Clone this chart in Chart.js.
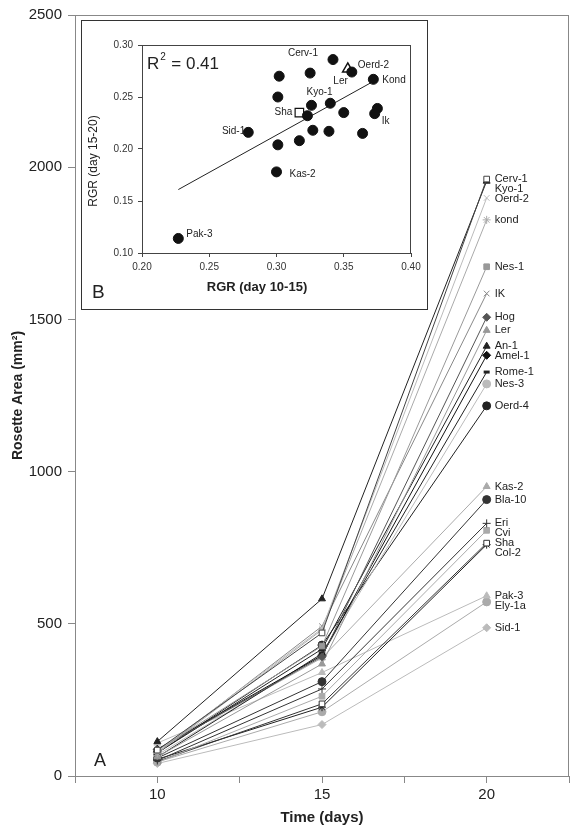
<!DOCTYPE html>
<html>
<head>
<meta charset="utf-8">
<script src="https://cdn.jsdelivr.net/npm/chart.js@4.4.1/dist/chart.umd.min.js"></script>
<style>
  body { margin: 0; background: #fff; }
  #wrap { position: relative; width: 576px; height: 830px; }
  #main { position: absolute; left: 0; top: 0; }
  #insetBox { position: absolute; left: 81px; top: 20px; width: 347px; height: 290px;
              box-sizing: border-box; border: 1px solid #333; background: #fff; }
</style>
</head>
<body>
<div id="wrap">
  <canvas id="main" width="576" height="830"></canvas>
  <div id="insetBox"><canvas id="inset" width="345" height="288"></canvas></div>
</div>
<script>
// --- panel A : rosette area per accession ---
const days = [10, 15, 20];
const dayTicks = [10, 15, 20];
const areaTicks = [0, 500, 1000, 1500, 2000, 2500];
const accessions = ['Cerv-1', 'Kyo-1', 'Oerd-2', 'kond', 'Nes-1', 'IK', 'Hog', 'Ler', 'An-1', 'Amel-1',
  'Rome-1', 'Nes-3', 'Oerd-4', 'Kas-2', 'Bla-10', 'Eri', 'Cvi', 'Sha', 'Col-2', 'Pak-3', 'Ely-1a', 'Sid-1'];
const area10 = [85, 113, 81, 75, 84, 76, 86, 63, 76, 88, 62, 69, 76, 87, 59, 51, 45, 48, 55, 108, 46, 41];
const area15 = [470, 582, 484, 480, 427, 492, 392, 368, 417, 396, 402, 398, 430, 388, 310, 286, 262, 237, 226, 340, 211, 169];
const area20 = [1961, 1954, 1899, 1827, 1673, 1585, 1507, 1464, 1412, 1382, 1327, 1288, 1216, 951, 908, 830, 807, 765, 760, 592, 572, 487];

// --- panel B : RGR scatter ---
const rgr1015 = [0.342, 0.325, 0.302, 0.356, 0.372, 0.301, 0.340, 0.326, 0.323, 0.350, 0.375, 0.373,
  0.279, 0.327, 0.339, 0.364, 0.301, 0.317, 0.300, 0.227];
const rgr1520 = [0.286, 0.273, 0.270, 0.274, 0.267, 0.250, 0.244, 0.242, 0.232, 0.235, 0.239, 0.234,
  0.216, 0.218, 0.217, 0.215, 0.204, 0.208, 0.178, 0.114];
const rgrTags = ['Cerv-1', '', '', 'Oerd-2', 'Kond', '', '', 'Kyo-1', '', '', '', 'Ik',
  'Sid-1', '', '', '', '', '', 'Kas-2', 'Pak-3'];
const shaRgr = [0.317, 0.235];
const lerRgr = [0.353, 0.277];
const fitX = [0.227, 0.372];
const fitY = [0.161, 0.265];
const rgrTicks = [0.10, 0.15, 0.20, 0.25, 0.30];
const rgrXTicks = [0.20, 0.25, 0.30, 0.35, 0.40];

const FONT = "'Liberation Sans', Arial, sans-serif";
Chart.defaults.font.family = FONT;
Chart.defaults.color = '#222';

// line / marker look per accession
const looks = [
  {c: '#444', m: 'rect', f: '#fff'}, {c: '#222', m: 'triangle'}, {c: '#bbb', m: 'crossRot'},
  {c: '#aaa', m: 'star'}, {c: '#999', m: 'rect'}, {c: '#888', m: 'crossRot'},
  {c: '#555', m: 'rectRot'}, {c: '#999', m: 'triangle'}, {c: '#222', m: 'triangle'},
  {c: '#111', m: 'rectRot'}, {c: '#222', m: 'line'}, {c: '#bbb', m: 'circle'},
  {c: '#222', m: 'circle'}, {c: '#aaa', m: 'triangle'}, {c: '#333', m: 'circle'},
  {c: '#333', m: 'cross'}, {c: '#aaa', m: 'rect'}, {c: '#333', m: 'rect', f: '#fff'},
  {c: '#222', m: 'star'}, {c: '#bbb', m: 'triangle'}, {c: '#aaa', m: 'circle'},
  {c: '#bbb', m: 'rectRot'}
];

const series = [area10, area15, area20];
const mainSets = accessions.map((name, i) => ({
  label: name,
  data: days.map((d, k) => ({x: d, y: series[k][i]})),
  borderColor: looks[i].c,
  borderWidth: 1,
  pointStyle: looks[i].m,
  pointRadius: looks[i].m === 'line' ? 3 : 4,
  pointBorderWidth: looks[i].m === 'line' ? 3 : 1,
  pointBackgroundColor: looks[i].f || looks[i].c,
  pointBorderColor: looks[i].c,
  tension: 0
}));

const frame = {
  id: 'frame',
  beforeDatasetsDraw(chart, args, opts) {
    const {ctx, chartArea: a} = chart;
    ctx.save();
    ctx.strokeStyle = opts.color || '#888';
    ctx.lineWidth = 1;
    ctx.strokeRect(a.left + 0.5, a.top + 0.5, a.right - a.left - 1, a.bottom - a.top);
    ctx.restore();
  }
};

// names at the day-20 end of each line, nudged apart so they do not overlap
const endNames = {
  id: 'endNames',
  afterDatasetsDraw(chart) {
    const {ctx, scales: {x, y}} = chart;
    const px = x.getPixelForValue(20) + 8;
    let rows = accessions.map((n, i) => ({n, y: y.getPixelForValue(area20[i])}));
    rows.sort((a, b) => a.y - b.y);
    for (let i = 1; i < rows.length; i++) {
      if (rows[i].y - rows[i - 1].y < 10) rows[i].y = rows[i - 1].y + 10;
    }
    ctx.save();
    ctx.font = '11px ' + FONT;
    ctx.fillStyle = '#222';
    ctx.textBaseline = 'middle';
    rows.forEach(r => ctx.fillText(r.n, px, r.y));
    ctx.font = '18px ' + FONT;
    ctx.textAlign = 'center';
    ctx.fillText('A', 100, 761);
    ctx.restore();
  }
};

new Chart(document.getElementById('main'), {
  type: 'line',
  data: {datasets: mainSets},
  options: {
    responsive: false,
    animation: false,
    layout: {padding: {top: 10, right: 2, left: 0, bottom: 0}},
    plugins: {legend: {display: false}, tooltip: {enabled: false}, frame: {color: '#888'}},
    scales: {
      x: {
        type: 'linear', min: 7.5, max: 22.5,
        afterFit: s => { s.height = 54; },
        ticks: {stepSize: 2.5, autoSkip: false, maxRotation: 0, padding: 3,
          font: {size: 15}, color: '#222',
          callback: v => dayTicks.includes(v) ? String(v) : ''},
        grid: {drawOnChartArea: false, tickLength: 7, color: '#888'},
        border: {color: '#888'},
        title: {display: true, text: 'Time (days)', font: {size: 15, weight: 'bold'},
          color: '#222', padding: {top: 0, bottom: 3}}
      },
      y: {
        min: 0, max: 2500,
        afterFit: s => { s.width = 75; },
        afterBuildTicks: s => { s.ticks = areaTicks.map(v => ({value: v})); },
        ticks: {padding: 6, font: {size: 15}, color: '#222', callback: v => String(v)},
        grid: {drawOnChartArea: false, tickLength: 7, color: '#888'},
        border: {color: '#888'},
        title: {display: true, text: 'Rosette Area (mm²)', font: {size: 14, weight: 'bold'},
          color: '#222', padding: {top: 10, bottom: 0}}
      }
    }
  },
  plugins: [frame, endNames]
});

// --- inset ---
const tagPlace = {
  'Cerv-1': [-15, -6, 'right'], 'Oerd-2': [6, -7, 'left'], 'Kond': [9, 1, 'left'],
  'Kyo-1': [-5, -13, 'left'], 'Ik': [7, 8, 'left'], 'Sid-1': [-3, -1, 'right'],
  'Kas-2': [13, 2, 'left'], 'Pak-3': [8, -4, 'left']
};

const insetText = {
  id: 'insetText',
  afterDatasetsDraw(chart) {
    const {ctx, scales: {x, y}} = chart;
    ctx.save();
    ctx.fillStyle = '#222';
    ctx.textBaseline = 'middle';
    ctx.font = '10px ' + FONT;
    rgrTags.forEach((t, i) => {
      if (!t) return;
      const p = tagPlace[t];
      ctx.textAlign = p[2];
      ctx.fillText(t, x.getPixelForValue(rgr1015[i]) + p[0], y.getPixelForValue(rgr1520[i]) + p[1]);
    });
    ctx.textAlign = 'right';
    ctx.fillText('Sha', x.getPixelForValue(shaRgr[0]) - 7, y.getPixelForValue(shaRgr[1]));
    ctx.fillText('Ler', x.getPixelForValue(lerRgr[0]), y.getPixelForValue(lerRgr[1]) + 12);

    // R^2
    ctx.textAlign = 'left';
    ctx.font = '17px ' + FONT;
    ctx.fillText('R', 65, 43);
    const rw = ctx.measureText('R').width;
    ctx.font = '10px ' + FONT;
    ctx.fillText('2', 65 + rw + 1, 36);
    ctx.font = '17px ' + FONT;
    ctx.fillText('= 0.41', 65 + rw + 12, 43);

    ctx.font = '19px ' + FONT;
    ctx.fillText('B', 10, 272);

    ctx.font = 'bold 13px ' + FONT;
    ctx.textAlign = 'center';
    ctx.fillText('RGR (day 10-15)', 175, 266);

    ctx.translate(12, 140);
    ctx.rotate(-Math.PI / 2);
    ctx.font = '12px ' + FONT;
    ctx.fillText('RGR (day 15-20)', 0, 0);
    ctx.restore();
  }
};

new Chart(document.getElementById('inset'), {
  type: 'scatter',
  data: {
    datasets: [
      {data: rgr1015.map((v, i) => ({x: v, y: rgr1520[i]})), pointRadius: 5,
        pointBackgroundColor: '#111', pointBorderColor: '#111', pointBorderWidth: 1},
      {data: [{x: shaRgr[0], y: shaRgr[1]}], pointStyle: 'rect', pointRadius: 6,
        pointBackgroundColor: '#fff', pointBorderColor: '#111', pointBorderWidth: 1.2},
      {data: [{x: lerRgr[0], y: lerRgr[1]}], pointStyle: 'triangle', pointRadius: 6,
        pointBackgroundColor: '#fff', pointBorderColor: '#111', pointBorderWidth: 1.5},
      {type: 'line', data: fitX.map((v, i) => ({x: v, y: fitY[i]})), borderColor: '#222',
        borderWidth: 1, pointRadius: 0, showLine: true}
    ]
  },
  options: {
    responsive: false,
    animation: false,
    layout: {padding: {top: 24, right: 16, left: 0, bottom: 0}},
    plugins: {legend: {display: false}, tooltip: {enabled: false}, frame: {color: '#444'}},
    scales: {
      x: {
        type: 'linear', min: 0.2, max: 0.4,
        afterFit: s => { s.height = 56; },
        afterBuildTicks: s => { s.ticks = rgrXTicks.map(v => ({value: v})); },
        ticks: {padding: 4, font: {size: 10}, color: '#333', maxRotation: 0,
          callback: v => v.toFixed(2)},
        grid: {drawOnChartArea: false, tickLength: 4, color: '#444'},
        border: {color: '#444'}
      },
      y: {
        min: 0.1, max: 0.3,
        afterFit: s => { s.width = 60; },
        afterBuildTicks: s => { s.ticks = rgrTicks.map(v => ({value: v})); },
        ticks: {padding: 5, font: {size: 10}, color: '#333', callback: v => v.toFixed(2)},
        grid: {drawOnChartArea: false, tickLength: 4, color: '#444'},
        border: {color: '#444'}
      }
    }
  },
  plugins: [frame, insetText]
});
</script>
</body>
</html>
